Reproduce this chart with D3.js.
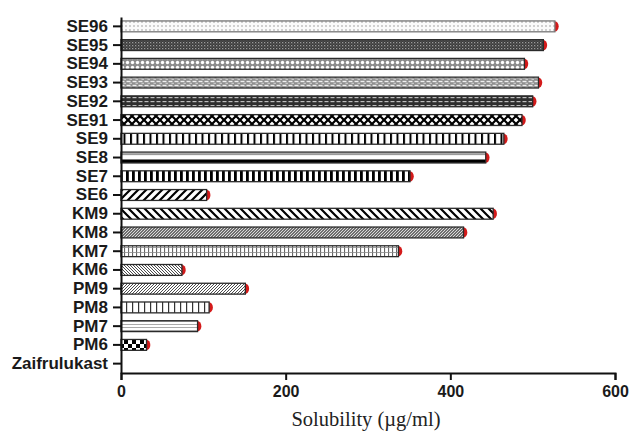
<!DOCTYPE html>
<html>
<head>
<meta charset="utf-8">
<script src="https://cdn.jsdelivr.net/npm/d3@7"></script>
<style>
  body { margin: 0; background: #fff; }
  svg { display: block; }
</style>
</head>
<body>
<script>
// Categories, top to bottom as drawn
const formulations = ['SE96', 'SE95', 'SE94', 'SE93', 'SE92', 'SE91', 'SE9', 'SE8', 'SE7', 'SE6',
                      'KM9', 'KM8', 'KM7', 'KM6', 'PM9', 'PM8', 'PM7', 'PM6', 'Zaifrulukast'];
// Solubility (ug/ml)
const solubility = [527, 513, 490, 507, 500, 487, 465, 443, 351, 104,
                    452, 416, 337, 74, 151, 107, 93, 31, 0];
const xTicks = [0, 200, 400, 600];
const xLabel = 'Solubility (\u00b5g/ml)';

// which fill pattern each bar uses
const patternFor = {
  SE96: 'dots', SE95: 'dense', SE94: 'rings', SE93: 'brickLight', SE92: 'brickDark',
  SE91: 'cross', SE9: 'boxes', SE8: 'rails', SE7: 'bars', SE6: 'slashBig',
  KM9: 'backBig', KM8: 'slashGrey', KM7: 'grid', KM6: 'backFine', PM9: 'slashFine',
  PM8: 'vlines', PM7: 'hlines', PM6: 'checker', Zaifrulukast: 'hlines'
};

const svgWidth = 632;
const svgHeight = 433;
const margin = { top: 17, right: 17, bottom: 60, left: 121 };

const svg = d3.select('body')
              .append('svg')
              .attr('width', svgWidth)
              .attr('height', svgHeight);

const defs = svg.append('defs');

const addPattern = (id, w, h, bg, draw) => {
  const p = defs.append('pattern')
                .attr('id', id)
                .attr('patternUnits', 'userSpaceOnUse')
                .attr('width', w)
                .attr('height', h);
  p.append('rect').attr('width', w).attr('height', h).attr('fill', bg);
  draw(p);
};

addPattern('dots', 4, 4, '#fbfbfb', (p) => {
  p.append('circle').attr('cx', 2).attr('cy', 2).attr('r', 0.8).attr('fill', '#9a9a9a');
});
addPattern('dense', 3, 3, '#3a3a3a', (p) => {
  p.append('rect').attr('x', 0).attr('y', 0).attr('width', 1.3).attr('height', 1.3).attr('fill', '#9a9a9a');
  p.append('rect').attr('x', 1.5).attr('y', 1.5).attr('width', 1).attr('height', 1).attr('fill', '#777');
});
addPattern('rings', 5, 5, '#8c8c8c', (p) => {
  p.append('circle').attr('cx', 2.5).attr('cy', 2.5).attr('r', 1.7).attr('fill', '#fff');
});
addPattern('brickLight', 6, 4, '#8f8f8f', (p) => {
  p.append('rect').attr('x', 0.5).attr('y', 0.8).attr('width', 4).attr('height', 1.4).attr('fill', '#f0f0f0');
  p.append('rect').attr('x', 3.5).attr('y', 2.8).attr('width', 2.5).attr('height', 0.9).attr('fill', '#e0e0e0');
});
addPattern('brickDark', 6, 4, '#2e2e2e', (p) => {
  p.append('rect').attr('x', 0.5).attr('y', 1).attr('width', 4).attr('height', 1.2).attr('fill', '#bdbdbd');
});
addPattern('cross', 8, 8, '#fff', (p) => {
  p.append('path').attr('d', 'M0,0L8,8M0,8L8,0').attr('stroke', '#000').attr('stroke-width', 2.2);
});
addPattern('boxes', 6.5, 6, '#fff', (p) => {
  p.append('rect').attr('x', 0).attr('y', 0).attr('width', 2).attr('height', 6).attr('fill', '#000');
});
addPattern('bars', 6, 6, '#fff', (p) => {
  p.append('rect').attr('x', 0).attr('y', 0).attr('width', 2.8).attr('height', 6).attr('fill', '#000');
});
addPattern('slashBig', 8, 8, '#fff', (p) => {
  p.append('path').attr('d', 'M-2,10L10,-2M-6,6L6,-6M2,14L14,2').attr('stroke', '#000').attr('stroke-width', 2.2);
});
addPattern('backBig', 8, 8, '#fff', (p) => {
  p.append('path').attr('d', 'M-2,-2L10,10M-6,2L6,14M2,-6L14,6').attr('stroke', '#000').attr('stroke-width', 2.2);
});
addPattern('slashGrey', 3, 3, '#6e6e6e', (p) => {
  p.append('path').attr('d', 'M-1,4L4,-1').attr('stroke', '#e8e8e8').attr('stroke-width', 0.9);
});
addPattern('grid', 4, 5, '#fff', (p) => {
  p.append('rect').attr('x', 0).attr('y', 0).attr('width', 1.1).attr('height', 5).attr('fill', '#666');
  p.append('rect').attr('x', 0).attr('y', 2).attr('width', 4).attr('height', 0.8).attr('fill', '#888');
});
addPattern('backFine', 3, 3, '#fff', (p) => {
  p.append('path').attr('d', 'M-1,-1L4,4M-1,2L1,4M2,-1L4,1').attr('stroke', '#4a4a4a').attr('stroke-width', 1);
});
addPattern('slashFine', 3, 3, '#fff', (p) => {
  p.append('path').attr('d', 'M-1,4L4,-1M-1,1L1,-1M2,4L4,2').attr('stroke', '#4a4a4a').attr('stroke-width', 1);
});
addPattern('vlines', 6, 6, '#fff', (p) => {
  p.append('rect').attr('x', 0).attr('y', 0).attr('width', 1.2).attr('height', 6).attr('fill', '#333');
});
addPattern('hlines', 3, 3, '#fff', (p) => {
  p.append('rect').attr('x', 0).attr('y', 0).attr('width', 3).attr('height', 1).attr('fill', '#aaa');
});
addPattern('checker', 8, 8, '#fff', (p) => {
  p.append('rect').attr('x', 0).attr('y', 0).attr('width', 4).attr('height', 4).attr('fill', '#000');
  p.append('rect').attr('x', 4).attr('y', 4).attr('width', 4).attr('height', 4).attr('fill', '#000');
});
// SE8: grey top rail, thick black bottom rail
const rails = defs.append('pattern')
                  .attr('id', 'rails')
                  .attr('width', 1)
                  .attr('height', 1)
                  .attr('patternContentUnits', 'objectBoundingBox');
rails.append('rect').attr('width', 1).attr('height', 1).attr('fill', '#fff');
rails.append('rect').attr('y', 0.1).attr('width', 1).attr('height', 0.18).attr('fill', '#999');
rails.append('rect').attr('y', 0.68).attr('width', 1).attr('height', 0.32).attr('fill', '#000');

// Scales
const xScale = d3.scaleLinear()
                 .domain([0, 600])
                 .range([margin.left, svgWidth - margin.right]);

const yScale = d3.scaleBand()
                 .domain(formulations)
                 .range([margin.top, svgHeight - margin.bottom])
                 .paddingInner(0.42)
                 .paddingOuter(0.21);

const rows = formulations.map((name, i) => ({ name: name, value: solubility[i] }));
const barH = yScale.bandwidth();

// red error caps sit behind the bar ends
svg.append('g')
   .selectAll('ellipse')
   .data(rows.filter((d) => d.value > 0))
   .enter()
   .append('ellipse')
   .attr('cx', (d) => xScale(d.value))
   .attr('cy', (d) => yScale(d.name) + barH / 2)
   .attr('rx', 3.8)
   .attr('ry', barH / 2 - 0.3)
   .attr('fill', '#d41a1a');

svg.append('g')
   .selectAll('rect')
   .data(rows)
   .enter()
   .append('rect')
   .attr('x', xScale(0))
   .attr('y', (d) => yScale(d.name))
   .attr('width', (d) => xScale(d.value) - xScale(0))
   .attr('height', barH)
   .attr('fill', (d) => 'url(#' + patternFor[d.name] + ')')
   .attr('stroke', (d) => d.name === 'SE96' ? '#777' : '#2a2a2a')
   .attr('stroke-width', 1.3);

// Axes
const xAxis = d3.axisBottom(xScale)
                .tickValues(xTicks)
                .tickSize(7)
                .tickPadding(6)
                .tickFormat(d3.format('d'));
const xG = svg.append('g')
              .attr('transform', 'translate(0,' + (svgHeight - margin.bottom) + ')')
              .call(xAxis);

const yAxis = d3.axisLeft(yScale)
                .tickSize(8)
                .tickPadding(5)
                .tickSizeOuter(0);
const yG = svg.append('g')
              .attr('transform', 'translate(' + margin.left + ',0)')
              .call(yAxis);

[xG, yG].forEach((g) => {
  g.select('.domain').attr('stroke', '#111').attr('stroke-width', 2);
  g.selectAll('.tick line').attr('stroke', '#111').attr('stroke-width', 2);
  g.selectAll('.tick text')
   .attr('fill', '#1a1a1a')
   .style('font-family', '"Liberation Sans", Arial, sans-serif')
   .style('font-weight', 'bold');
});
xG.selectAll('.tick text').style('font-size', '16px');
yG.selectAll('.tick text').style('font-size', '17px');

svg.append('text')
   .attr('x', 366)
   .attr('y', 426)
   .attr('text-anchor', 'middle')
   .attr('fill', '#222')
   .style('font-family', '"Liberation Serif", "Times New Roman", serif')
   .style('font-size', '20.5px')
   .text(xLabel);
</script>
</body>
</html>
